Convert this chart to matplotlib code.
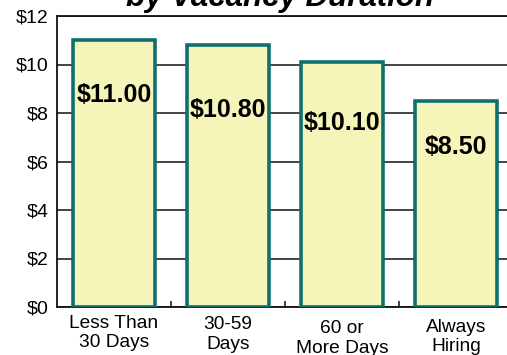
import matplotlib
matplotlib.use("Agg")
import matplotlib.pyplot as plt
from matplotlib.ticker import FixedLocator

plt.rcParams['font.family'] = ['Liberation Sans', 'DejaVu Sans']

# Data
categories = ["Less Than\n30 Days", "30-59\nDays", "60 or\nMore Days", "Always\nHiring"]
wages = [11.00, 10.80, 10.10, 8.50]
value_labels = ["$11.00", "$10.80", "$10.10", "$8.50"]
y_ticks = [0, 2, 4, 6, 8, 10, 12]
y_tick_labels = ["$0", "$2", "$4", "$6", "$8", "$10", "$12"]

# Layout details
label_centers = [8.74, 8.12, 7.59, 6.60]      # vertical centre of value labels
cat_pads = [5.4, 6.8, 9.7, 8.3]               # category label drop below axis (pt)

fig = plt.figure(figsize=(5.07, 3.55), dpi=100)
ax = fig.add_axes([57 / 507, 48 / 355, 456 / 507, 291 / 355])

x = range(len(wages))
ax.bar(x, wages, width=0.715, color="#f5f5b9", edgecolor="#0f6f6f",
       linewidth=2.6, zorder=3)

for i, (lab, yc) in enumerate(zip(value_labels, label_centers)):
    ax.text(i, yc, lab, ha="center", va="center", fontsize=18,
            fontweight="bold", color="black", zorder=4)

ax.set_xlim(-0.5, 3.5)
ax.set_ylim(0, 12)
ax.set_yticks(y_ticks)
ax.set_yticklabels(y_tick_labels, fontsize=14)
ax.tick_params(axis="y", length=0, pad=6)
ax.yaxis.grid(True, color="#111111", linewidth=1.1, zorder=1)
ax.set_axisbelow(True)

ax.set_xticks([])
ax.xaxis.set_minor_locator(FixedLocator([0.5, 1.5, 2.5]))
ax.tick_params(axis="x", which="minor", direction="in", length=4,
               width=1.1, color="#111111")

for i, cat in enumerate(categories):
    ax.annotate(cat, xy=(i, 0), xycoords=("data", "axes fraction"),
                xytext=(0, -cat_pads[i]), textcoords="offset points",
                ha="center", va="top", fontsize=13.8, linespacing=1.2,
                annotation_clip=False)

for side in ["left", "bottom", "top"]:
    ax.spines[side].set_linewidth(1.3)
    ax.spines[side].set_color("#111111")
ax.spines["right"].set_visible(False)

fig.text(280 / 507, 349 / 355, "by Vacancy Duration", ha="center",
         va="baseline", fontsize=22.5, fontweight="bold", fontstyle="italic")

fig.savefig("out.png", dpi=100)
